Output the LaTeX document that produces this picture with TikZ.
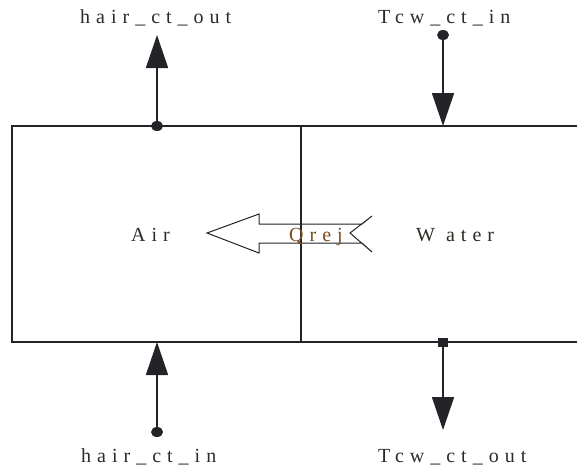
\documentclass[tikz,border=0pt]{standalone}
\usepackage{fontspec}
\setmainfont{Liberation Serif}[LetterSpace=30]
\usetikzlibrary{arrows.meta,shapes.geometric}
\definecolor{ink}{HTML}{222428}
\definecolor{txt}{HTML}{2E2A24}
\definecolor{qtxt}{HTML}{7A4A1E}
\tikzset{
  lbl/.style={font=\fontsize{20}{22}\selectfont, text=txt, anchor=base west, inner sep=0pt},
  wall/.style={draw=ink, line width=1.4pt},
  flow/.style={draw=ink, line width=1.6pt, -{Triangle[width=22pt,length=33pt]}},
  port/.style={ellipse, fill=ink, inner sep=0pt, minimum width=12pt, minimum height=10pt},
  heat/.style={draw=ink, line width=1pt, line join=miter}
}
\begin{document}
\begin{tikzpicture}[x=1pt,y=-1pt]
\useasboundingbox (0,0) rectangle (577,471);
% boxes
\node[wall, rectangle, minimum width=289pt, minimum height=216pt, inner sep=0pt] (airbox) at (156.5,234) {};
\coordinate (wtl) at (301,126);
\coordinate (wtr) at (577,126);
\coordinate (wbl) at (301,342);
\coordinate (wbr) at (577,342);
\draw[wall] (wtl) -- (wtr);
\draw[wall] (wbl) -- (wbr);
% heat arrow
\draw[heat] (207,233) -- (259,214) -- (259,224) -- (362,224) -- (372,216) -- (350,233) -- (372,252) -- (362,243) -- (259,243) -- (259,253) -- cycle;
% box labels
\node[lbl] (air) at (131,241) {Air};
\node[lbl] (water) at (416,241) {W ater};
\node[lbl, text=qtxt] (qrej) at (289,241) {Qrej};
% ports
\node[port] (p1) at (157,126) {};
\coordinate (t1) at (157,35);
\node[port] (p2) at (443,35) {};
\coordinate (t2) at (443,126);
\node[port] (p3) at (157,432) {};
\coordinate (t3) at (157,342);
\node[port, rectangle, minimum width=10pt, minimum height=9pt] (p4) at (443,342) {};
\coordinate (t4) at (443,430);
\draw[flow] (p1.center) -- (t1);
\draw[flow] (p2.center) -- (t2);
\draw[flow] (p3.center) -- (t3);
\draw[flow] (p4.center) -- (t4);
% port labels
\node[lbl] (l1) at (80,23) {hair\_ct\_out};
\node[lbl] (l2) at (378,23) {Tcw\_ct\_in};
\node[lbl] (l3) at (81,462) {hair\_ct\_in};
\node[lbl] (l4) at (378,462) {Tcw\_ct\_out};
\end{tikzpicture}
\end{document}
